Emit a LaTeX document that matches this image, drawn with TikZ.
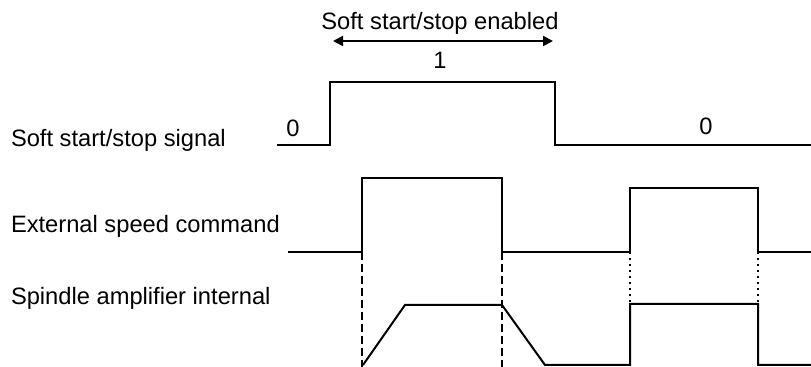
\documentclass[tikz,border=0pt]{standalone}
\usepackage{fontspec}
\setmainfont{Liberation Sans}
\usetikzlibrary{arrows.meta}

\begin{document}
\begin{tikzpicture}[x=0.5pt, y=-0.5pt, line width=1pt,
  every node/.style={font=\fontsize{11.85}{14}\selectfont, inner sep=0pt}]
\useasboundingbox (0,0) rectangle (811,367);
% row labels
\node[anchor=base west] (lsig) at (10,147) {Soft start/stop signal};
\node[anchor=base west] (lcmd) at (10,233) {External speed command};
\node[anchor=base west] (lamp) at (10,305) {Spindle amplifier internal};
% soft start/stop signal
\draw (277,145) -- (330,145) -- (330,82) -- (555,82) -- (555,145) -- (811,145);
\node[anchor=base] (zeroa) at (293,137) {0};
\node[anchor=base] (one) at (440,69) {1};
\node[anchor=base] (zerob) at (706,135) {0};
\draw[{Triangle[length=5pt,width=5pt]}-{Triangle[length=5pt,width=5pt]}] (333,41) -- (553,41);
\node[anchor=base] (lena) at (440,30) {Soft start/stop enabled};
% external speed command
\draw (288,252) -- (362,252) -- (362,178) -- (502,178) -- (502,252) -- (630,252)
  -- (630,188) -- (758,188) -- (758,252) -- (811,252);
% spindle amplifier internal
\draw (363,365) -- (405,305) -- (502,305) -- (545,365) -- (630,365)
  -- (630,304) -- (758,304) -- (758,365) -- (811,365);
% timing guides
\draw[dash pattern=on 4pt off 2pt] (362,252) -- (362,367);
\draw[dash pattern=on 4pt off 2pt] (502,252) -- (502,367);
\draw[line width=0.8pt, dash pattern=on 1pt off 2pt] (630,252) -- (630,304);
\draw[line width=0.8pt, dash pattern=on 1pt off 2pt] (758,252) -- (758,304);
\end{tikzpicture}
\end{document}
